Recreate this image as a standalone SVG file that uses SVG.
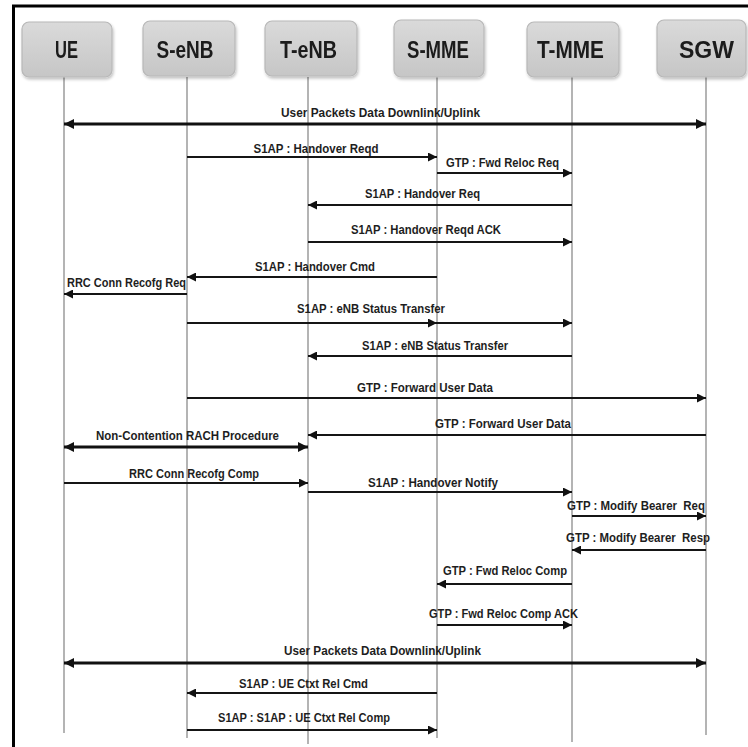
<svg xmlns="http://www.w3.org/2000/svg" width="748" height="747" viewBox="0 0 748 747">
  <defs>
    <linearGradient id="boxFill" x1="0" y1="0" x2="0" y2="1">
      <stop offset="0" stop-color="#dadada"/>
      <stop offset="1" stop-color="#c6c6c6"/>
    </linearGradient>
    <filter id="soft" x="-10%" y="-10%" width="130%" height="130%">
      <feGaussianBlur in="SourceAlpha" stdDeviation="1.5"/>
      <feOffset dx="1" dy="1.5" result="b"/>
      <feComponentTransfer><feFuncA type="linear" slope="0.25"/></feComponentTransfer>
      <feMerge><feMergeNode/><feMergeNode in="SourceGraphic"/></feMerge>
    </filter>
    <marker id="head" viewBox="0 0 10 10" refX="10" refY="5" markerWidth="9" markerHeight="9" markerUnits="userSpaceOnUse" orient="auto-start-reverse">
      <path d="M0,0 L10,5 L0,10 z" fill="#111"/>
    </marker>
    <marker id="headBig" viewBox="0 0 10 10" refX="10" refY="5" markerWidth="10" markerHeight="10" markerUnits="userSpaceOnUse" orient="auto-start-reverse">
      <path d="M0,0 L10,5 L0,10 z" fill="#111"/>
    </marker>
  </defs>
  <style>
    .box { fill: url(#boxFill); stroke: #b8b8b8; stroke-width: 1.2; }
    .hdr { font-family: "Liberation Sans", Arial, sans-serif; font-weight: bold; font-size: 23px; fill: #1a1a1a; text-anchor: middle; }
    .life { stroke: #b4b4b4; stroke-width: 2; }
    .msg { stroke: #151515; stroke-width: 1.8; fill: none; marker-end: url(#head); }
    .mid { marker-mid: url(#head); }
    .dbl { stroke: #111; stroke-width: 3; fill: none; marker-start: url(#headBig); marker-end: url(#headBig); }
    .lbl { font-family: "Liberation Sans", Arial, sans-serif; font-weight: bold; font-size: 13.5px; fill: #1e1e1e; text-anchor: middle; white-space: pre; }
  </style>

  <rect width="748" height="747" fill="#ffffff"/>

  <!-- frame -->
  <path d="M13.5,747 L13.5,6 L748,6" fill="none" stroke="#000" stroke-width="3"/>

  <!-- lifelines -->
  <g id="lifelines">
    <line class="life" x1="64" y1="77" x2="64" y2="733"/>
    <line class="life" x1="187" y1="77" x2="187" y2="738"/>
    <line class="life" x1="308" y1="77" x2="308" y2="744"/>
    <line class="life" x1="437" y1="77" x2="437" y2="738"/>
    <line class="life" x1="572" y1="77" x2="572" y2="742"/>
    <line class="life" x1="706" y1="77" x2="706" y2="735"/>
  </g>

  <!-- participants -->
  <g id="ue" filter="url(#soft)">
    <rect class="box" x="22" y="22" width="90" height="55" rx="7"/>
    <text class="hdr" x="66.5" y="57.5" textLength="23" lengthAdjust="spacingAndGlyphs">UE</text>
  </g>
  <g id="s-enb" filter="url(#soft)">
    <rect class="box" x="143" y="21" width="92" height="55" rx="7"/>
    <text class="hdr" x="185" y="57.5" textLength="57" lengthAdjust="spacingAndGlyphs">S-eNB</text>
  </g>
  <g id="t-enb" filter="url(#soft)">
    <rect class="box" x="265" y="21" width="92" height="55" rx="7"/>
    <text class="hdr" x="308.5" y="57.5" textLength="57" lengthAdjust="spacingAndGlyphs">T-eNB</text>
  </g>
  <g id="s-mme" filter="url(#soft)">
    <rect class="box" x="394" y="20" width="90" height="57" rx="7"/>
    <text class="hdr" x="438" y="57.5" textLength="62" lengthAdjust="spacingAndGlyphs">S-MME</text>
  </g>
  <g id="t-mme" filter="url(#soft)">
    <rect class="box" x="527" y="22" width="92" height="55" rx="7"/>
    <text class="hdr" x="570.5" y="57.5" textLength="67" lengthAdjust="spacingAndGlyphs">T-MME</text>
  </g>
  <g id="sgw" filter="url(#soft)">
    <rect class="box" x="657" y="20" width="89" height="57" rx="7"/>
    <text class="hdr" x="706.5" y="57.5" textLength="55" lengthAdjust="spacingAndGlyphs">SGW</text>
  </g>

  <!-- messages -->
  <g id="connectors">
    <line class="dbl" x1="64" y1="124" x2="706" y2="124"/>
    <line class="msg" x1="187" y1="157" x2="437" y2="157"/>
    <line class="msg" x1="437" y1="173" x2="572" y2="173"/>
    <line class="msg" x1="572" y1="205" x2="308" y2="205"/>
    <line class="msg" x1="308" y1="242" x2="572" y2="242"/>
    <line class="msg" x1="437" y1="277" x2="187" y2="277"/>
    <line class="msg" x1="187" y1="294" x2="64" y2="294"/>
    <polyline class="msg mid" points="187,323 437,323 572,323"/>
    <line class="msg" x1="572" y1="356" x2="308" y2="356"/>
    <line class="msg" x1="187" y1="398" x2="706" y2="398"/>
    <line class="msg" x1="706" y1="435" x2="308" y2="435"/>
    <line class="dbl" x1="64" y1="447" x2="308" y2="447"/>
    <line class="msg" x1="64" y1="483" x2="308" y2="483"/>
    <line class="msg" x1="308" y1="492" x2="572" y2="492"/>
    <line class="msg" x1="572" y1="516" x2="706" y2="516"/>
    <line class="msg" x1="706" y1="550" x2="572" y2="550"/>
    <line class="msg" x1="572" y1="584" x2="437" y2="584"/>
    <line class="msg" x1="437" y1="625" x2="572" y2="625"/>
    <line class="dbl" x1="64" y1="663" x2="706" y2="663"/>
    <line class="msg" x1="437" y1="693" x2="187" y2="693"/>
    <line class="msg" x1="187" y1="730" x2="437" y2="730"/>
  </g>

  <!-- message labels -->
  <g id="labels">
    <text class="lbl" x="380.5" y="116.5" textLength="199" lengthAdjust="spacingAndGlyphs">User Packets Data Downlink/Uplink</text>
    <text class="lbl" x="316" y="152.5" textLength="125" lengthAdjust="spacingAndGlyphs">S1AP : Handover Reqd</text>
    <text class="lbl" x="502.5" y="166.5" textLength="113" lengthAdjust="spacingAndGlyphs">GTP : Fwd Reloc Req</text>
    <text class="lbl" x="422.5" y="197.5" textLength="115" lengthAdjust="spacingAndGlyphs">S1AP : Handover Req</text>
    <text class="lbl" x="426" y="233.5" textLength="150" lengthAdjust="spacingAndGlyphs">S1AP : Handover Reqd ACK</text>
    <text class="lbl" x="315" y="270.5" textLength="120" lengthAdjust="spacingAndGlyphs">S1AP : Handover Cmd</text>
    <text class="lbl" x="126.5" y="286.5" textLength="119" lengthAdjust="spacingAndGlyphs">RRC Conn Recofg Req</text>
    <text class="lbl" x="371" y="312.5" textLength="148" lengthAdjust="spacingAndGlyphs">S1AP : eNB Status Transfer</text>
    <text class="lbl" x="435" y="349.5" textLength="146" lengthAdjust="spacingAndGlyphs">S1AP : eNB Status Transfer</text>
    <text class="lbl" x="425" y="391.5" textLength="136" lengthAdjust="spacingAndGlyphs">GTP : Forward User Data</text>
    <text class="lbl" x="503" y="427.5" textLength="136" lengthAdjust="spacingAndGlyphs">GTP : Forward User Data</text>
    <text class="lbl" x="187.5" y="439.5" textLength="183" lengthAdjust="spacingAndGlyphs">Non-Contention RACH Procedure</text>
    <text class="lbl" x="194" y="477.5" textLength="130" lengthAdjust="spacingAndGlyphs">RRC Conn Recofg Comp</text>
    <text class="lbl" x="433" y="486.5" textLength="130" lengthAdjust="spacingAndGlyphs">S1AP : Handover Notify</text>
    <text class="lbl" x="636" y="509.5" textLength="138" lengthAdjust="spacingAndGlyphs">GTP : Modify Bearer  Req</text>
    <text class="lbl" x="638" y="541.5" textLength="144" lengthAdjust="spacingAndGlyphs">GTP : Modify Bearer  Resp</text>
    <text class="lbl" x="505" y="574.5" textLength="124" lengthAdjust="spacingAndGlyphs">GTP : Fwd Reloc Comp</text>
    <text class="lbl" x="503.5" y="617.5" textLength="149" lengthAdjust="spacingAndGlyphs">GTP : Fwd Reloc Comp ACK</text>
    <text class="lbl" x="382.5" y="654.5" textLength="197" lengthAdjust="spacingAndGlyphs">User Packets Data Downlink/Uplink</text>
    <text class="lbl" x="303.5" y="687.5" textLength="129" lengthAdjust="spacingAndGlyphs">S1AP : UE Ctxt Rel Cmd</text>
    <text class="lbl" x="304" y="721.5" textLength="172" lengthAdjust="spacingAndGlyphs">S1AP : S1AP : UE Ctxt Rel Comp</text>
  </g>
</svg>
